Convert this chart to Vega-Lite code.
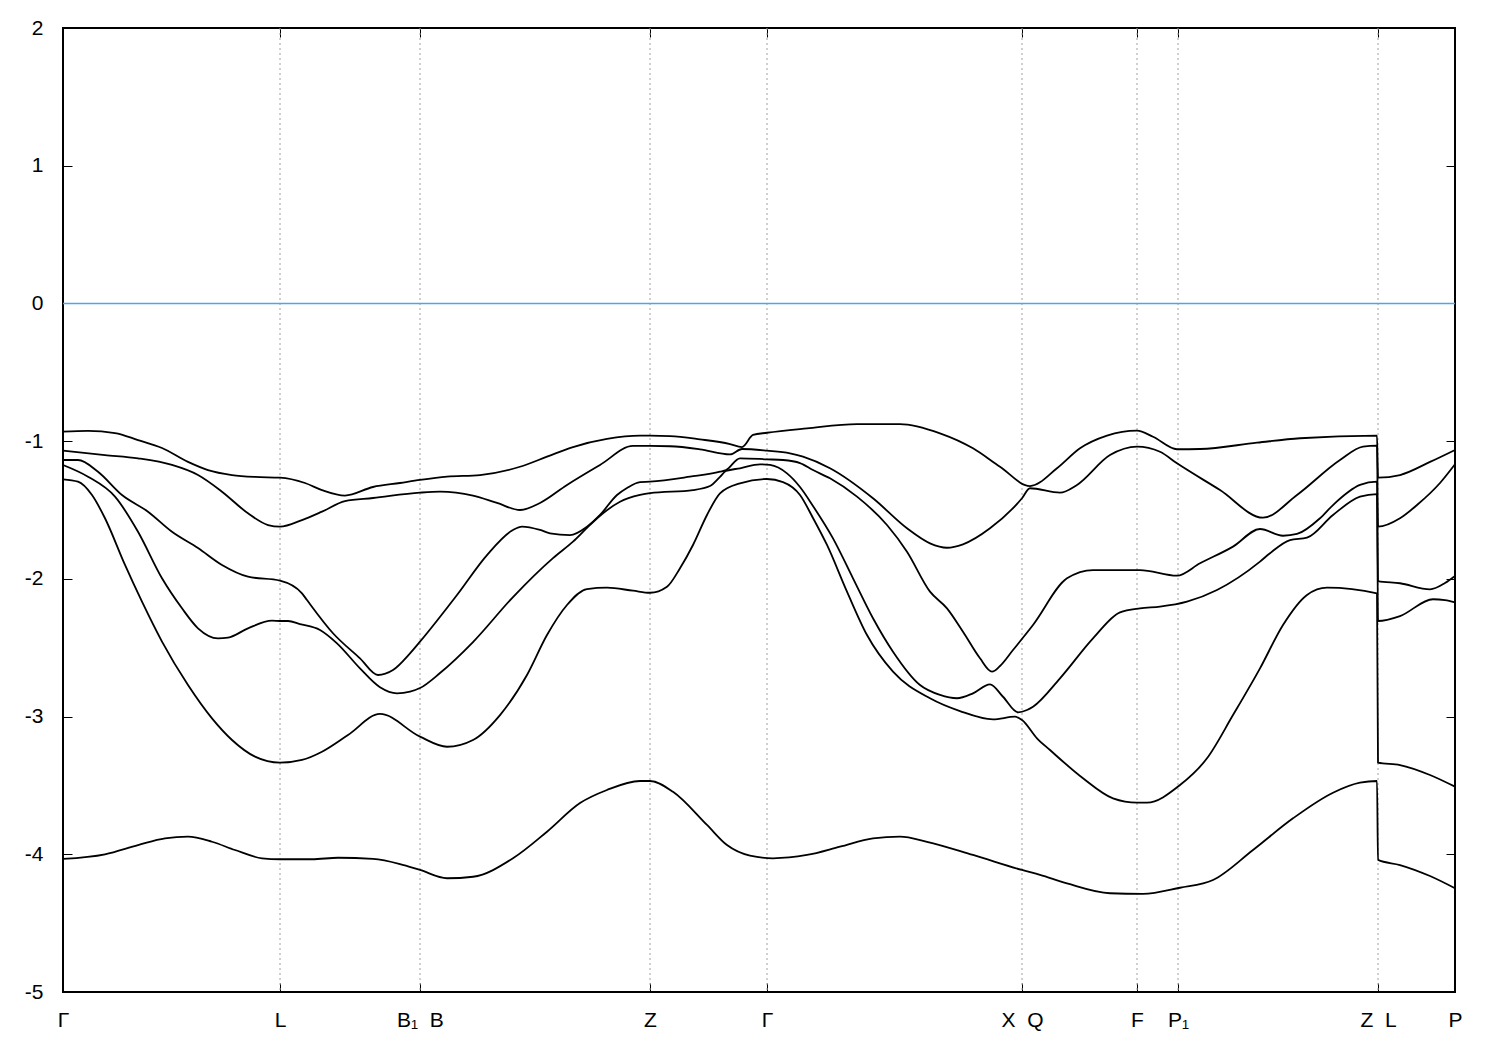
{
  "$schema": "https://vega.github.io/schema/vega-lite/v6.json",
  "width": 1392,
  "height": 964,
  "autosize": {"type": "none"},
  "padding": {"left": 63, "top": 28, "right": 45, "bottom": 58},
  "background": "white",
  "config": {
    "view": {"stroke": "black", "strokeWidth": 2},
    "axis": {"labelFont": "Liberation Sans", "labelFontSize": 21, "labelColor": "black", "tickColor": "black", "tickWidth": 1, "domain": false, "grid": false, "title": null}
  },
  "datasets": {
    "kpts": [
      {"k": 0.217, "name": "L"}, {"k": 0.357, "name": "B1|B"}, {"k": 0.587, "name": "Z"}, {"k": 0.704, "name": "Γ"},
      {"k": 0.959, "name": "X|Q"}, {"k": 1.074, "name": "F"}, {"k": 1.115, "name": "P1"}, {"k": 1.315, "name": "Z|L"}
    ],
    "bands": [
      {"band":6,"k":0,"E":-0.931},{"band":6,"k":0.025,"E":-0.926},{"band":6,"k":0.052,"E":-0.941},{"band":6,"k":0.075,"E":-0.992},{"band":6,"k":0.099,"E":-1.050},{"band":6,"k":0.125,"E":-1.151},{"band":6,"k":0.145,"E":-1.210},{"band":6,"k":0.169,"E":-1.246},{"band":6,"k":0.192,"E":-1.260},{"band":6,"k":0.217,"E":-1.265},{"band":6,"k":0.242,"E":-1.304},{"band":6,"k":0.259,"E":-1.355},{"band":6,"k":0.282,"E":-1.395},{"band":6,"k":0.31,"E":-1.333},{"band":6,"k":0.337,"E":-1.304},{"band":6,"k":0.357,"E":-1.282},{"band":6,"k":0.384,"E":-1.258},{"band":6,"k":0.417,"E":-1.246},{"band":6,"k":0.457,"E":-1.186},{"band":6,"k":0.484,"E":-1.113},{"band":6,"k":0.51,"E":-1.043},{"band":6,"k":0.544,"E":-0.984},{"band":6,"k":0.577,"E":-0.960},{"band":6,"k":0.587,"E":-0.960},{"band":6,"k":0.607,"E":-0.963},{"band":6,"k":0.637,"E":-0.987},{"band":6,"k":0.667,"E":-1.021},{"band":6,"k":0.679,"E":-1.043},{"band":6,"k":0.69,"E":-0.955},{"band":6,"k":0.704,"E":-0.939},{"band":6,"k":0.744,"E":-0.907},{"band":6,"k":0.794,"E":-0.876},{"band":6,"k":0.837,"E":-0.876},{"band":6,"k":0.877,"E":-0.943},{"band":6,"k":0.91,"E":-1.052},{"band":6,"k":0.937,"E":-1.186},{"band":6,"k":0.967,"E":-1.326},{"band":6,"k":0.994,"E":-1.197},{"band":6,"k":1.017,"E":-1.052},{"band":6,"k":1.044,"E":-0.960},{"band":6,"k":1.074,"E":-0.924},{"band":6,"k":1.09,"E":-0.968},{"band":6,"k":1.114,"E":-1.059},{"band":6,"k":1.137,"E":-1.057},{"band":6,"k":1.194,"E":-1.011},{"band":6,"k":1.237,"E":-0.979},{"band":6,"k":1.314,"E":-0.960},{"band":6,"k":1.315,"E":-1.265},{"band":6,"k":1.337,"E":-1.246},{"band":6,"k":1.367,"E":-1.151},{"band":6,"k":1.392,"E":-1.064},
      {"band":5,"k":0,"E":-1.069},{"band":5,"k":0.042,"E":-1.101},{"band":5,"k":0.075,"E":-1.125},{"band":5,"k":0.109,"E":-1.173},{"band":5,"k":0.135,"E":-1.246},{"band":5,"k":0.159,"E":-1.367},{"band":5,"k":0.185,"E":-1.524},{"band":5,"k":0.205,"E":-1.609},{"band":5,"k":0.217,"E":-1.621},{"band":5,"k":0.239,"E":-1.573},{"band":5,"k":0.259,"E":-1.512},{"band":5,"k":0.282,"E":-1.435},{"band":5,"k":0.31,"E":-1.413},{"band":5,"k":0.357,"E":-1.374},{"band":5,"k":0.377,"E":-1.367},{"band":5,"k":0.41,"E":-1.396},{"band":5,"k":0.434,"E":-1.449},{"band":5,"k":0.457,"E":-1.500},{"band":5,"k":0.477,"E":-1.449},{"band":5,"k":0.504,"E":-1.318},{"band":5,"k":0.537,"E":-1.173},{"band":5,"k":0.57,"E":-1.035},{"band":5,"k":0.587,"E":-1.035},{"band":5,"k":0.607,"E":-1.037},{"band":5,"k":0.637,"E":-1.059},{"band":5,"k":0.667,"E":-1.096},{"band":5,"k":0.679,"E":-1.057},{"band":5,"k":0.704,"E":-1.069},{"band":5,"k":0.727,"E":-1.088},{"band":5,"k":0.74,"E":-1.113},{"band":5,"k":0.767,"E":-1.197},{"band":5,"k":0.81,"E":-1.415},{"band":5,"k":0.844,"E":-1.633},{"band":5,"k":0.867,"E":-1.742},{"band":5,"k":0.884,"E":-1.774},{"band":5,"k":0.9,"E":-1.749},{"band":5,"k":0.927,"E":-1.633},{"band":5,"k":0.959,"E":-1.415},{"band":5,"k":0.967,"E":-1.342},{"band":5,"k":0.997,"E":-1.374},{"band":5,"k":1.014,"E":-1.318},{"band":5,"k":1.047,"E":-1.101},{"band":5,"k":1.074,"E":-1.040},{"band":5,"k":1.097,"E":-1.077},{"band":5,"k":1.114,"E":-1.161},{"band":5,"k":1.157,"E":-1.355},{"band":5,"k":1.2,"E":-1.556},{"band":5,"k":1.234,"E":-1.391},{"band":5,"k":1.277,"E":-1.137},{"band":5,"k":1.3,"E":-1.040},{"band":5,"k":1.314,"E":-1.033},{"band":5,"k":1.315,"E":-1.621},{"band":5,"k":1.337,"E":-1.560},{"band":5,"k":1.354,"E":-1.464},{"band":5,"k":1.377,"E":-1.304},{"band":5,"k":1.392,"E":-1.168},
      {"band":4,"k":0,"E":-1.137},{"band":4,"k":0.015,"E":-1.137},{"band":4,"k":0.035,"E":-1.222},{"band":4,"k":0.059,"E":-1.391},{"band":4,"k":0.085,"E":-1.512},{"band":4,"k":0.109,"E":-1.658},{"band":4,"k":0.135,"E":-1.776},{"band":4,"k":0.159,"E":-1.899},{"band":4,"k":0.185,"E":-1.984},{"band":4,"k":0.217,"E":-2.013},{"band":4,"k":0.239,"E":-2.105},{"band":4,"k":0.244,"E":-2.154},{"band":4,"k":0.27,"E":-2.395},{"band":4,"k":0.297,"E":-2.577},{"band":4,"k":0.315,"E":-2.698},{"band":4,"k":0.33,"E":-2.662},{"band":4,"k":0.347,"E":-2.541},{"band":4,"k":0.357,"E":-2.456},{"band":4,"k":0.394,"E":-2.117},{"band":4,"k":0.424,"E":-1.827},{"band":4,"k":0.45,"E":-1.645},{"band":4,"k":0.459,"E":-1.621},{"band":4,"k":0.477,"E":-1.645},{"band":4,"k":0.487,"E":-1.669},{"band":4,"k":0.507,"E":-1.682},{"band":4,"k":0.524,"E":-1.621},{"band":4,"k":0.537,"E":-1.536},{"band":4,"k":0.554,"E":-1.391},{"band":4,"k":0.564,"E":-1.340},{"band":4,"k":0.577,"E":-1.297},{"band":4,"k":0.587,"E":-1.294},{"band":4,"k":0.627,"E":-1.258},{"band":4,"k":0.657,"E":-1.222},{"band":4,"k":0.663,"E":-1.210},{"band":4,"k":0.677,"E":-1.125},{"band":4,"k":0.704,"E":-1.132},{"band":4,"k":0.72,"E":-1.137},{"band":4,"k":0.737,"E":-1.159},{"band":4,"k":0.75,"E":-1.210},{"band":4,"k":0.767,"E":-1.270},{"band":4,"k":0.794,"E":-1.403},{"band":4,"k":0.824,"E":-1.609},{"band":4,"k":0.844,"E":-1.803},{"band":4,"k":0.867,"E":-2.093},{"band":4,"k":0.884,"E":-2.214},{"band":4,"k":0.9,"E":-2.384},{"band":4,"k":0.917,"E":-2.577},{"band":4,"k":0.929,"E":-2.674},{"band":4,"k":0.937,"E":-2.633},{"band":4,"k":0.95,"E":-2.517},{"band":4,"k":0.97,"E":-2.335},{"band":4,"k":1.004,"E":-1.996},{"band":4,"k":1.03,"E":-1.936},{"band":4,"k":1.077,"E":-1.936},{"band":4,"k":1.114,"E":-1.977},{"band":4,"k":1.137,"E":-1.887},{"band":4,"k":1.17,"E":-1.766},{"band":4,"k":1.197,"E":-1.638},{"band":4,"k":1.22,"E":-1.687},{"band":4,"k":1.234,"E":-1.674},{"band":4,"k":1.257,"E":-1.560},{"band":4,"k":1.27,"E":-1.464},{"band":4,"k":1.297,"E":-1.318},{"band":4,"k":1.314,"E":-1.294},{"band":4,"k":1.315,"E":-2.016},{"band":4,"k":1.337,"E":-2.032},{"band":4,"k":1.367,"E":-2.076},{"band":4,"k":1.382,"E":-2.030},{"band":4,"k":1.392,"E":-1.979},
      {"band":3,"k":0,"E":-1.173},{"band":3,"k":0.025,"E":-1.258},{"band":3,"k":0.052,"E":-1.403},{"band":3,"k":0.075,"E":-1.658},{"band":3,"k":0.099,"E":-1.996},{"band":3,"k":0.119,"E":-2.214},{"band":3,"k":0.135,"E":-2.359},{"band":3,"k":0.155,"E":-2.432},{"band":3,"k":0.165,"E":-2.427},{"band":3,"k":0.185,"E":-2.359},{"band":3,"k":0.209,"E":-2.304},{"band":3,"k":0.217,"E":-2.306},{"band":3,"k":0.225,"E":-2.306},{"band":3,"k":0.237,"E":-2.328},{"band":3,"k":0.257,"E":-2.371},{"band":3,"k":0.274,"E":-2.468},{"band":3,"k":0.297,"E":-2.650},{"band":3,"k":0.317,"E":-2.787},{"band":3,"k":0.334,"E":-2.831},{"band":3,"k":0.347,"E":-2.819},{"band":3,"k":0.357,"E":-2.793},{"band":3,"k":0.377,"E":-2.684},{"band":3,"k":0.41,"E":-2.459},{"band":3,"k":0.45,"E":-2.132},{"band":3,"k":0.49,"E":-1.849},{"band":3,"k":0.51,"E":-1.730},{"band":3,"k":0.525,"E":-1.623},{"band":3,"k":0.54,"E":-1.524},{"band":3,"k":0.557,"E":-1.440},{"band":3,"k":0.577,"E":-1.391},{"band":3,"k":0.587,"E":-1.377},{"band":3,"k":0.63,"E":-1.355},{"band":3,"k":0.647,"E":-1.326},{"band":3,"k":0.657,"E":-1.260},{"band":3,"k":0.663,"E":-1.217},{"band":3,"k":0.677,"E":-1.197},{"band":3,"k":0.697,"E":-1.168},{"band":3,"k":0.707,"E":-1.173},{"band":3,"k":0.724,"E":-1.234},{"band":3,"k":0.737,"E":-1.333},{"band":3,"k":0.75,"E":-1.471},{"band":3,"k":0.77,"E":-1.706},{"band":3,"k":0.79,"E":-1.996},{"band":3,"k":0.81,"E":-2.286},{"band":3,"k":0.83,"E":-2.529},{"band":3,"k":0.857,"E":-2.771},{"band":3,"k":0.877,"E":-2.843},{"band":3,"k":0.894,"E":-2.867},{"band":3,"k":0.91,"E":-2.831},{"band":3,"k":0.927,"E":-2.766},{"band":3,"k":0.94,"E":-2.856},{"band":3,"k":0.955,"E":-2.969},{"band":3,"k":0.964,"E":-2.952},{"band":3,"k":0.97,"E":-2.928},{"band":3,"k":0.997,"E":-2.722},{"band":3,"k":1.03,"E":-2.432},{"band":3,"k":1.057,"E":-2.243},{"band":3,"k":1.077,"E":-2.214},{"band":3,"k":1.097,"E":-2.202},{"band":3,"k":1.124,"E":-2.166},{"band":3,"k":1.154,"E":-2.081},{"band":3,"k":1.197,"E":-1.875},{"band":3,"k":1.207,"E":-1.814},{"band":3,"k":1.227,"E":-1.718},{"band":3,"k":1.244,"E":-1.701},{"band":3,"k":1.27,"E":-1.536},{"band":3,"k":1.297,"E":-1.403},{"band":3,"k":1.314,"E":-1.384},{"band":3,"k":1.315,"E":-2.306},{"band":3,"k":1.337,"E":-2.270},{"band":3,"k":1.37,"E":-2.148},{"band":3,"k":1.382,"E":-2.154},{"band":3,"k":1.392,"E":-2.170},
      {"band":2,"k":0,"E":-1.277},{"band":2,"k":0.015,"E":-1.294},{"band":2,"k":0.029,"E":-1.391},{"band":2,"k":0.042,"E":-1.560},{"band":2,"k":0.062,"E":-1.899},{"band":2,"k":0.079,"E":-2.166},{"band":2,"k":0.099,"E":-2.456},{"band":2,"k":0.125,"E":-2.771},{"band":2,"k":0.149,"E":-3.013},{"band":2,"k":0.169,"E":-3.170},{"band":2,"k":0.192,"E":-3.291},{"band":2,"k":0.217,"E":-3.335},{"band":2,"k":0.239,"E":-3.315},{"band":2,"k":0.259,"E":-3.255},{"band":2,"k":0.285,"E":-3.134},{"band":2,"k":0.317,"E":-2.981},{"band":2,"k":0.357,"E":-3.146},{"band":2,"k":0.384,"E":-3.219},{"band":2,"k":0.41,"E":-3.170},{"band":2,"k":0.437,"E":-2.989},{"band":2,"k":0.464,"E":-2.698},{"band":2,"k":0.484,"E":-2.408},{"band":2,"k":0.504,"E":-2.190},{"band":2,"k":0.524,"E":-2.074},{"band":2,"k":0.544,"E":-2.064},{"band":2,"k":0.57,"E":-2.086},{"band":2,"k":0.587,"E":-2.101},{"band":2,"k":0.604,"E":-2.057},{"band":2,"k":0.617,"E":-1.923},{"band":2,"k":0.63,"E":-1.754},{"band":2,"k":0.644,"E":-1.536},{"band":2,"k":0.657,"E":-1.379},{"band":2,"k":0.677,"E":-1.306},{"band":2,"k":0.704,"E":-1.275},{"band":2,"k":0.72,"E":-1.297},{"band":2,"k":0.737,"E":-1.391},{"band":2,"k":0.75,"E":-1.558},{"band":2,"k":0.764,"E":-1.754},{"band":2,"k":0.784,"E":-2.093},{"band":2,"k":0.804,"E":-2.408},{"band":2,"k":0.83,"E":-2.674},{"band":2,"k":0.867,"E":-2.867},{"band":2,"k":0.897,"E":-2.960},{"band":2,"k":0.93,"E":-3.020},{"band":2,"k":0.952,"E":-3.001},{"band":2,"k":0.959,"E":-3.025},{"band":2,"k":0.974,"E":-3.158},{"band":2,"k":0.987,"E":-3.243},{"band":2,"k":1.02,"E":-3.448},{"band":2,"k":1.05,"E":-3.594},{"band":2,"k":1.074,"E":-3.625},{"band":2,"k":1.084,"E":-3.625},{"band":2,"k":1.117,"E":-3.497},{"band":2,"k":1.144,"E":-3.303},{"band":2,"k":1.17,"E":-2.989},{"band":2,"k":1.197,"E":-2.650},{"band":2,"k":1.22,"E":-2.335},{"band":2,"k":1.244,"E":-2.117},{"band":2,"k":1.264,"E":-2.064},{"band":2,"k":1.314,"E":-2.105},{"band":2,"k":1.315,"E":-3.335},{"band":2,"k":1.337,"E":-3.352},{"band":2,"k":1.367,"E":-3.424},{"band":2,"k":1.392,"E":-3.509},
      {"band":1,"k":0,"E":-4.034},{"band":1,"k":0.042,"E":-4.000},{"band":1,"k":0.075,"E":-3.933},{"band":1,"k":0.102,"E":-3.884},{"band":1,"k":0.125,"E":-3.872},{"band":1,"k":0.149,"E":-3.909},{"band":1,"k":0.172,"E":-3.969},{"band":1,"k":0.199,"E":-4.029},{"band":1,"k":0.217,"E":-4.036},{"band":1,"k":0.249,"E":-4.036},{"band":1,"k":0.275,"E":-4.025},{"band":1,"k":0.31,"E":-4.034},{"band":1,"k":0.337,"E":-4.071},{"band":1,"k":0.357,"E":-4.114},{"band":1,"k":0.384,"E":-4.174},{"band":1,"k":0.41,"E":-4.163},{"band":1,"k":0.45,"E":-4.029},{"band":1,"k":0.484,"E":-3.836},{"band":1,"k":0.517,"E":-3.628},{"band":1,"k":0.544,"E":-3.533},{"band":1,"k":0.577,"E":-3.468},{"band":1,"k":0.587,"E":-3.468},{"band":1,"k":0.61,"E":-3.546},{"band":1,"k":0.644,"E":-3.787},{"band":1,"k":0.664,"E":-3.933},{"band":1,"k":0.687,"E":-4.010},{"band":1,"k":0.71,"E":-4.029},{"band":1,"k":0.744,"E":-4.005},{"band":1,"k":0.777,"E":-3.945},{"band":1,"k":0.81,"E":-3.884},{"band":1,"k":0.837,"E":-3.872},{"band":1,"k":0.864,"E":-3.909},{"band":1,"k":0.91,"E":-4.005},{"band":1,"k":0.959,"E":-4.114},{"band":1,"k":0.977,"E":-4.150},{"band":1,"k":1.004,"E":-4.211},{"band":1,"k":1.047,"E":-4.283},{"band":1,"k":1.08,"E":-4.288},{"band":1,"k":1.117,"E":-4.243},{"band":1,"k":1.15,"E":-4.187},{"band":1,"k":1.19,"E":-3.969},{"band":1,"k":1.23,"E":-3.739},{"band":1,"k":1.27,"E":-3.553},{"band":1,"k":1.297,"E":-3.480},{"band":1,"k":1.314,"E":-3.468},{"band":1,"k":1.315,"E":-4.041},{"band":1,"k":1.337,"E":-4.078},{"band":1,"k":1.367,"E":-4.158},{"band":1,"k":1.392,"E":-4.247}
    ]
  },
  "layer": [
    {
      "data": {"name": "kpts"},
      "mark": {"type": "rule", "color": "#a0a0a0", "strokeWidth": 1, "strokeDash": [2, 3]},
      "encoding": {
        "x": {"field": "k", "type": "quantitative", "scale": {"domain": [0, 1.392], "nice": false, "zero": false},
              "axis": {"orient": "top", "values": [0, 0.217, 0.357, 0.587, 0.704, 0.959, 1.074, 1.115, 1.315, 1.392], "labels": false, "tickSize": -9}}
      }
    },
    {
      "data": {"values": [{"E": 0}]},
      "mark": {"type": "rule", "color": "#4CA8E0", "strokeWidth": 1.5},
      "encoding": {
        "y": {"field": "E", "type": "quantitative", "scale": {"domain": [-5, 2], "nice": false, "zero": false},
              "axis": {"orient": "right", "values": [-5, -4, -3, -2, -1, 0, 1, 2], "labels": false, "tickSize": -9}}
      }
    },
    {
      "data": {"name": "bands"},
      "mark": {"type": "line", "color": "black", "strokeWidth": 1.8, "strokeJoin": "round", "interpolate": "monotone"},
      "encoding": {
        "x": {"field": "k", "type": "quantitative", "scale": {"domain": [0, 1.392], "nice": false, "zero": false},
              "axis": {"orient": "bottom", "values": [0, 0.217, 0.357, 0.587, 0.704, 0.959, 1.074, 1.115, 1.315, 1.392], "tickSize": -9, "labelPadding": 26, "labelFlush": false, "labelOverlap": false, "labelBound": false,
                       "labelExpr": "abs(datum.value-0.217)<0.002?'L':abs(datum.value-0.357)<0.002?'B₁\u00a0\u00a0B':abs(datum.value-0.587)<0.002?'Z':abs(datum.value-0.704)<0.002?'Γ':abs(datum.value-0.959)<0.002?'X\u00a0\u00a0Q':abs(datum.value-1.074)<0.002?'F':abs(datum.value-1.115)<0.002?'P₁':abs(datum.value-1.315)<0.002?'Z\u00a0\u00a0L':abs(datum.value-1.392)<0.002?'P':'Γ'"}},
        "y": {"field": "E", "type": "quantitative", "scale": {"domain": [-5, 2], "nice": false, "zero": false},
              "axis": {"orient": "left", "values": [-5, -4, -3, -2, -1, 0, 1, 2], "format": "d", "labelExpr": "replace(datum.label, '−', '-')", "tickSize": -9, "labelPadding": 29, "labelOverlap": false, "labelFlush": false}},
        "detail": {"field": "band", "type": "nominal"}
      }
    }
  ],
  "resolve": {"axis": {"x": "independent", "y": "independent"}}
}
